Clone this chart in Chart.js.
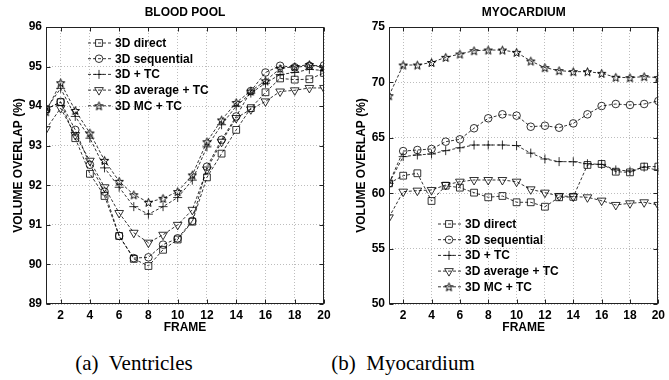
<!DOCTYPE html>
<html>
<head>
<meta charset="utf-8">
<script src="https://cdn.jsdelivr.net/npm/chart.js@4.4.1/dist/chart.umd.min.js"></script>
<style>
  body { margin: 0; background: #fff; width: 669px; height: 380px; overflow: hidden; position: relative; }
  canvas { position: absolute; top: 0; }
  #bloodpool { left: 0; }
  #myocardium { left: 343px; }
  .cap { position: absolute; top: 351px; font-family: "Liberation Serif", "DejaVu Serif", serif; font-size: 21px; white-space: nowrap; transform: translateX(-50%); color: #000; }
</style>
</head>
<body>
<canvas id="bloodpool" width="343" height="340"></canvas>
<canvas id="myocardium" width="326" height="340"></canvas>
<div class="cap" style="left:134px">(a)&nbsp; Ventricles</div>
<div class="cap" style="left:403px">(b)&nbsp; Myocardium</div>
<script>
// frames and series names
const frames = [1, 2, 3, 4, 5, 6, 7, 8, 9, 10, 11, 12, 13, 14, 15, 16, 17, 18, 19, 20];
const seriesNames = ['3D direct', '3D sequential', '3D + TC', '3D average + TC', '3D MC + TC'];

// blood pool (ventricles)
const poolDirect     = [93.92, 94.10, 93.19, 92.29, 91.73, 90.72, 90.14, 89.96, 90.37, 90.63, 91.08, 92.20, 92.80, 93.40, 93.95, 94.35, 94.70, 94.67, 94.68, 94.84];
const poolSequential = [93.92, 94.11, 93.40, 92.52, 91.84, 90.72, 90.16, 90.18, 90.50, 90.66, 91.10, 92.47, 93.15, 93.74, 94.38, 94.85, 95.02, 94.98, 95.02, 95.03];
const poolTC         = [93.92, 94.45, 93.74, 93.19, 92.44, 91.95, 91.46, 91.27, 91.46, 91.69, 92.13, 92.97, 93.53, 94.00, 94.33, 94.58, 94.80, 94.85, 94.93, 94.90];
const poolAverage    = [93.42, 93.95, 93.27, 92.62, 91.95, 91.30, 90.80, 90.55, 90.75, 91.00, 91.38, 92.40, 93.10, 93.70, 93.92, 94.12, 94.37, 94.40, 94.46, 94.46];
const poolMC         = [93.86, 94.59, 93.89, 93.32, 92.63, 92.10, 91.76, 91.57, 91.67, 91.84, 92.26, 93.10, 93.65, 94.09, 94.38, 94.64, 94.95, 95.00, 95.05, 94.97];

// myocardium
const myoDirect     = [60.89, 61.58, 61.80, 59.30, 60.68, 60.50, 60.05, 59.63, 59.75, 59.18, 59.18, 58.78, 59.63, 59.67, 62.55, 62.64, 61.94, 61.88, 62.40, 62.40];
const myoSequential = [60.89, 63.80, 63.90, 63.99, 64.65, 64.86, 65.86, 66.76, 67.12, 67.00, 66.00, 66.09, 65.91, 66.30, 67.12, 67.87, 68.05, 67.96, 68.05, 68.32];
const myoTC         = [60.89, 63.30, 63.45, 63.54, 63.84, 64.10, 64.35, 64.35, 64.35, 64.30, 63.62, 63.09, 62.85, 62.84, 62.66, 62.60, 62.10, 62.00, 62.35, 62.06];
const myoAverage    = [57.82, 60.14, 60.23, 60.29, 60.74, 61.04, 61.19, 61.19, 61.19, 61.04, 60.35, 60.05, 59.75, 59.70, 59.63, 59.33, 58.94, 59.09, 59.18, 58.94];
const myoMC         = [68.80, 71.57, 71.57, 71.80, 72.26, 72.56, 72.86, 72.92, 72.92, 72.71, 71.93, 71.33, 71.06, 70.97, 70.97, 70.82, 70.46, 70.43, 70.52, 70.43];

// tick labels
const frameTicks = [2, 4, 6, 8, 10, 12, 14, 16, 18, 20];
const poolTicks = [89, 90, 91, 92, 93, 94, 95, 96];
const myoTicks = [50, 55, 60, 65, 70, 75];

const FONT = 'Liberation Sans';

// pentagram marker
function starImage(r) {
  const size = 11;
  const c = document.createElement('canvas');
  c.width = c.height = size;
  const g = c.getContext('2d');
  g.beginPath();
  for (let k = 0; k < 10; k++) {
    const rad = k % 2 ? r * 0.42 : r;
    const ang = -Math.PI / 2 + k * Math.PI / 5;
    const px = size / 2 + rad * Math.cos(ang), py = size / 2 + 0.5 + rad * Math.sin(ang);
    if (k) g.lineTo(px, py); else g.moveTo(px, py);
  }
  g.closePath();
  g.strokeStyle = '#000';
  g.lineWidth = 1;
  g.stroke();
  return c;
}

const markers = [
  { pointStyle: 'rect', radius: 4.8, rotation: 0 },
  { pointStyle: 'circle', radius: 3.8, rotation: 0 },
  { pointStyle: 'cross', radius: 4.5, rotation: 0 },
  { pointStyle: 'triangle', radius: 5, rotation: 180 },
  { pointStyle: starImage(4.4), radius: 4.5, rotation: 0 }
];

// box, inward ticks, title and legend
const matlabLook = {
  id: 'matlabLook',
  afterDraw(chart, args, opts) {
    const { ctx, chartArea: a, scales } = chart;
    const L = Math.round(a.left) + 0.5, R = Math.round(a.right) - 0.5;
    const T = Math.round(a.top) + 0.5, B = Math.round(a.bottom) - 0.5;
    ctx.save();
    ctx.strokeStyle = '#222';
    ctx.lineWidth = 1;
    ctx.setLineDash([]);
    ctx.strokeRect(L, T, R - L, B - T);
    ctx.beginPath();
    scales.x.ticks.forEach(t => {
      const px = Math.round(scales.x.getPixelForValue(t.value)) + 0.5;
      ctx.moveTo(px, B); ctx.lineTo(px, B - 4);
      ctx.moveTo(px, T); ctx.lineTo(px, T + 4);
    });
    scales.y.ticks.forEach(t => {
      const py = Math.round(scales.y.getPixelForValue(t.value)) + 0.5;
      ctx.moveTo(L, py); ctx.lineTo(L + 4, py);
      ctx.moveTo(R, py); ctx.lineTo(R - 4, py);
    });
    ctx.stroke();

    ctx.fillStyle = '#000';
    ctx.font = 'bold 12px "' + FONT + '"';
    ctx.textAlign = 'center';
    ctx.textBaseline = 'middle';
    ctx.fillText(opts.title, (a.left + a.right) / 2, 13);

    // legend
    ctx.textAlign = 'left';
    chart.data.datasets.forEach((ds, i) => {
      const y = opts.legendY + i * 15.7;
      const x = opts.legendX;
      ctx.strokeStyle = '#000';
      ctx.lineWidth = 0.8;
      ctx.setLineDash([3, 2]);
      ctx.beginPath();
      ctx.moveTo(x, y); ctx.lineTo(x + 24, y);
      ctx.stroke();
      ctx.setLineDash([]);
      ctx.fillStyle = 'rgba(0,0,0,0)';
      Chart.helpers.drawPoint(ctx, {
        pointStyle: ds.pointStyle, rotation: ds.pointRotation,
        radius: ds.pointRadius, borderWidth: 0.8
      }, x + 11, y);
      ctx.fillStyle = '#000';
      ctx.fillText(ds.label, x + 27, y + 0.5);
    });
    ctx.restore();
  }
};

function makeChart(id, title, series, yTicks, padRight, legendX, legendY) {
  const font = { family: FONT, size: 12, weight: 'bold' };
  const datasets = series.map((vals, i) => ({
    label: seriesNames[i],
    data: frames.map((f, k) => ({ x: f, y: vals[k] })),
    borderColor: '#000',
    borderWidth: 0.8,
    borderDash: [3, 2],
    fill: false,
    tension: 0,
    pointStyle: markers[i].pointStyle,
    pointRadius: markers[i].radius,
    pointRotation: markers[i].rotation,
    pointBorderColor: '#000',
    pointBorderWidth: 0.8,
    pointBackgroundColor: 'rgba(0,0,0,0)'
  }));

  return new Chart(document.getElementById(id), {
    type: 'line',
    data: { datasets: datasets },
    options: {
      responsive: false,
      animation: false,
      layout: { padding: { top: 27, right: padRight, left: 0, bottom: 0 } },
      plugins: {
        legend: { display: false },
        tooltip: { enabled: false },
        matlabLook: { title: title, legendX: legendX, legendY: legendY }
      },
      scales: {
        x: {
          type: 'linear',
          min: 1,
          max: 20,
          afterBuildTicks: s => { s.ticks = frameTicks.map(v => ({ value: v })); },
          afterFit: s => { s.height = 36; },
          grid: { color: '#bdbdbd', lineWidth: 1, drawTicks: false },
          border: { display: false, dash: [1, 2] },
          ticks: { color: '#000', font: font, padding: 4, maxRotation: 0, autoSkip: false },
          title: { display: true, text: 'FRAME', color: '#000', font: font, padding: { top: 0, bottom: 5 } }
        },
        y: {
          type: 'linear',
          min: yTicks[0],
          max: yTicks[yTicks.length - 1],
          afterBuildTicks: s => { s.ticks = yTicks.map(v => ({ value: v })); },
          afterFit: s => { s.width = 46; },
          grid: { color: '#bdbdbd', lineWidth: 1, drawTicks: false },
          border: { display: false, dash: [1, 2] },
          ticks: { color: '#000', font: font, padding: 4 },
          title: { display: true, text: 'VOLUME OVERLAP (%)', color: '#000', font: font, padding: { top: 11, bottom: 0 } }
        }
      }
    },
    plugins: [matlabLook]
  });
}

makeChart('bloodpool', 'BLOOD POOL',
  [poolDirect, poolSequential, poolTC, poolAverage, poolMC], poolTicks, 19, 88, 43);
makeChart('myocardium', 'MYOCARDIUM',
  [myoDirect, myoSequential, myoTC, myoAverage, myoMC], myoTicks, 2, 95, 224);
</script>
</body>
</html>
